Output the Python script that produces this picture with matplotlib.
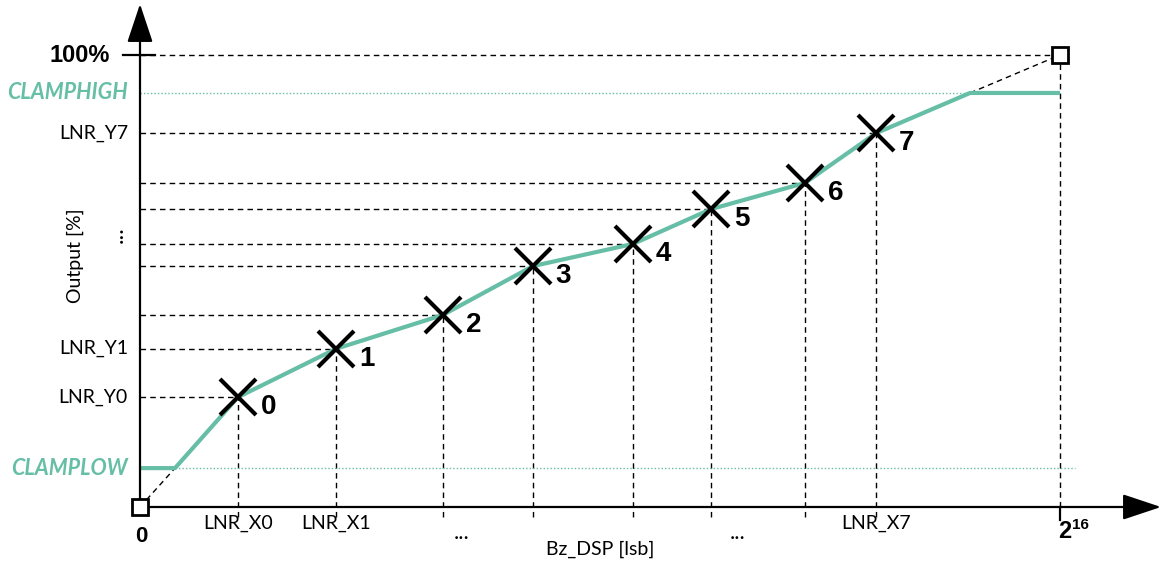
#!/usr/bin/env python3
"""
Piecewise linearization transfer curve (Bz_DSP -> Output).
"""
import numpy as np
import matplotlib.pyplot as plt

# data
FULL = 65536          # 2^16 lsb
lnr_x = [6981, 13962, 21584, 27995, 35119, 40675, 47371, 52429]
lnr_y = [24.3, 35.0, 42.5, 53.3, 58.2, 65.9, 71.7, 82.7]
point_labels = ['0', '1', '2', '3', '4', '5', '6', '7']
clamp_low = 8.6
clamp_high = 91.6
clamp_low_x = 2493     # where the curve leaves CLAMPLOW
clamp_high_x = 59126   # where the curve reaches CLAMPHIGH

ytick_vals = [lnr_y[0], lnr_y[1], 60.2, lnr_y[7]]
ytick_labels = ['LNR_Y0', 'LNR_Y1', '...', 'LNR_Y7']
xtick_vals = [lnr_x[0], lnr_x[1], 22900, 42600, lnr_x[7]]
xtick_labels = ['LNR_X0', 'LNR_X1', '...', '...', 'LNR_X7']

TEAL = '#66bea6'
W, H = 1165, 563
X0, X1 = 140, 1060    # pixel span of 0 .. 2^16
Y0, Y1 = 507, 55      # pixel span of 0 .. 100 %

sx = FULL / (X1 - X0)
sy = 100.0 / (Y0 - Y1)

plt.rcParams['font.family'] = ['Lato', 'DejaVu Sans']
ARIAL = 'Liberation Sans'

fig = plt.figure(figsize=(W / 100, H / 100), dpi=100)
ax = fig.add_axes([0, 0, 1, 1])
ax.set_xlim(-X0 * sx, (W - X0) * sx)
ax.set_ylim(-(H - Y0) * sy, Y0 * sy)
ax.axis('off')

dash = dict(color='black', lw=1.0, dashes=(4, 3))
below = -10 * sy

# guide lines from each breakpoint
for x, y in zip(lnr_x, lnr_y):
    ax.plot([0, x], [y, y], **dash)
    ax.plot([x, x], [below, y], **dash)
ax.plot([0, FULL], [100, 100], **dash)
ax.plot([FULL, FULL], [0, 100], **dash)
ax.plot([0, clamp_low_x], [0, clamp_low], **dash)
ax.plot([clamp_high_x, FULL], [clamp_high, 100], **dash)

# clamp levels
ax.plot([0, FULL], [clamp_high, clamp_high], color=TEAL, lw=1.0, ls=(0, (1, 1.5)))
ax.plot([clamp_low_x, FULL + 15 * sx], [clamp_low, clamp_low], color=TEAL, lw=1.0,
        ls=(0, (1, 1.5)))

# transfer curve
cx = [0, clamp_low_x] + lnr_x + [clamp_high_x, FULL]
cy = [clamp_low, clamp_low] + lnr_y + [clamp_high, clamp_high]
ax.plot(cx, cy, color=TEAL, lw=3.0, solid_capstyle='butt', zorder=3)

ax.plot(lnr_x, lnr_y, ls='none', marker='x', ms=26, mew=3, color='black', zorder=4)
for x, y, t in zip(lnr_x, lnr_y, point_labels):
    ax.annotate(t, (x, y), xytext=(22, -7), textcoords='offset points',
                ha='center', va='center', fontsize=20, fontweight='bold',
                fontfamily=ARIAL)

# end squares
ax.plot([0, FULL], [0, 100], ls='none', marker='s', ms=11, mfc='white',
        mec='black', mew=2, zorder=5)

# axes with arrows
head = dict(arrowstyle='-|>,head_length=2.4,head_width=0.8', color='black',
            lw=1.6, shrinkA=0, shrinkB=0)
ax.annotate('', xy=(1161 * sx - X0 * sx, 0), xytext=(0, 0), arrowprops=head)
ax.annotate('', xy=(0, (Y0 - 4) * sy), xytext=(0, 0), arrowprops=head)
ax.plot([-17 * sx, 15 * sx], [100, 100], color='black', lw=1.6)
ax.plot([FULL, FULL], [-13 * sy, 0], color='black', lw=1.6)

# y labels
for v, t in zip(ytick_vals, ytick_labels):
    if t == '...':
        ax.text(-24 * sx, v, t, ha='center', va='center_baseline', fontsize=17,
                rotation=90)
    else:
        ax.text(-12 * sx, v, t, ha='right', va='center', fontsize=14)
ax.text(-30 * sx, 100, '100%', ha='right', va='center', fontsize=17,
        fontweight='bold', fontfamily=ARIAL)
ax.text(-12 * sx, clamp_high, 'CLAMPHIGH', ha='right', va='center', fontsize=15.5,
        fontweight='bold', style='italic', color=TEAL)
ax.text(-12 * sx, clamp_low, 'CLAMPLOW', ha='right', va='center', fontsize=15.5,
        fontweight='bold', style='italic', color=TEAL)
ax.text(-65 * sx, 55.6, 'Output [%]', ha='center', va='center', fontsize=14,
        rotation=90)

# x labels
for v, t in zip(xtick_vals, xtick_labels):
    ax.text(v, -16 * sy if t != '...' else -26 * sy, t, ha='center',
            va='center', fontsize=14 if t != '...' else 16)
ax.text(1 * sx, -30 * sy, '0', ha='center', va='center', fontsize=16,
        fontweight='bold', fontfamily=ARIAL)
ax.text(FULL + 5 * sx, -24 * sy, '2', ha='center', va='center', fontsize=17,
        fontweight='bold', fontfamily=ARIAL)
ax.text(FULL + 20 * sx, -18 * sy, '16', ha='center', va='center', fontsize=11,
        fontweight='bold', fontfamily=ARIAL)
ax.text((600 - X0) * sx, -42 * sy, 'Bz_DSP [lsb]', ha='center', va='center',
        fontsize=14)

fig.savefig('out.png', dpi=100)
